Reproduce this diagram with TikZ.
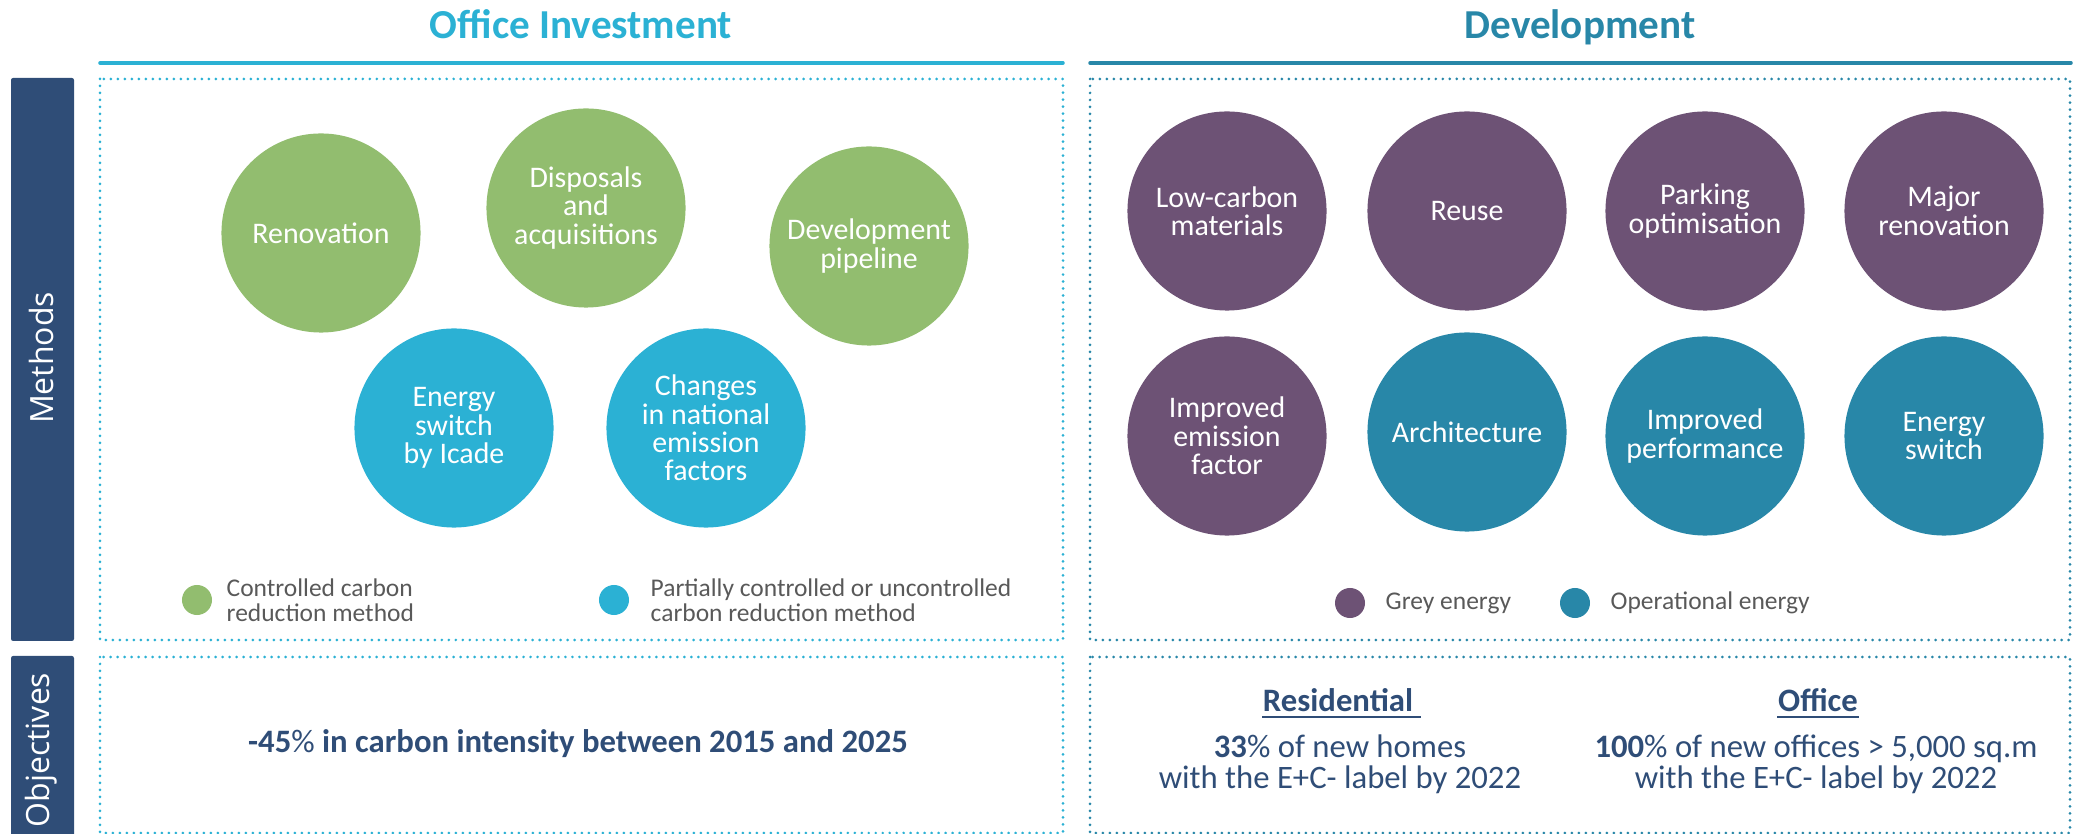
\documentclass[tikz,border=0pt]{standalone}
\usepackage{fontspec}
\setmainfont{Carlito}
\newfontfamily\sidefont{Open Sans}
\usetikzlibrary{positioning}

\definecolor{OfficeBlue}{HTML}{2BB1D4}
\definecolor{DevTeal}{HTML}{2887A8}
\definecolor{LeafGreen}{HTML}{92BD6F}
\definecolor{GreyPurple}{HTML}{6D5275}
\definecolor{Navy}{HTML}{2F4D77}
\definecolor{LegendGrey}{HTML}{595959}

\begin{document}
\begin{tikzpicture}[x=0.01cm,y=-0.01cm,
    method/.style={circle,minimum size=1.99cm,inner sep=0pt,text=white,align=center,
      font=\fontsize{8.5}{8.1}\selectfont},
    dotbox/.style={line width=0.85pt,dash pattern=on 0pt off 1.99pt,line cap=round},
    headline/.style={line width=1pt,line cap=round},
    heading/.style={anchor=base,inner sep=0pt,font=\fontsize{11.7}{12}\selectfont\bfseries},
    sidebar/.style={fill=Navy,rounded corners=0.6pt},
    sidelabel/.style={rotate=90,inner sep=0pt,text=white,font=\sidefont\fontsize{9.1}{10}\selectfont},
    keydot/.style={circle,minimum size=0.3cm,inner sep=0pt},
    keytext/.style={inner sep=0pt,text=LegendGrey,align=left,font=\fontsize{7.25}{7.1}\selectfont},
    goal/.style={inner sep=0pt,text=Navy,align=center,font=\fontsize{9.3}{8.8}\selectfont}]
  \useasboundingbox (0,0) rectangle (2078,834);

  % headings
  \node[heading,text=OfficeBlue] (office) at (581,39) {Office Investment};
  \node[heading,text=DevTeal] (dev) at (1580,39) {Development};
  \draw[headline,OfficeBlue] (100,63) -- (1063,63);
  \draw[headline,DevTeal] (1090,63) -- (2071,63);

  % side bars
  \fill[sidebar] (11,78) rectangle (74,641);
  \fill[sidebar] (11,656) rectangle (74,850);
  \node[sidelabel] (methods) at (41,358) {Methods};
  \node[sidelabel] (objectives) at (41,750) {Objectives};

  % dotted frames
  \draw[dotbox,OfficeBlue] (100,79) rectangle (1063,640);
  \draw[dotbox,OfficeBlue] (100,657) rectangle (1063,833);
  \draw[dotbox,DevTeal] (1090,79) rectangle (2070,640);
  \draw[dotbox,DevTeal] (1090,657) rectangle (2070,833);

  % office investment methods
  \node[method,fill=LeafGreen] (renov) at (321,233) {Renovation};
  \node[method,fill=LeafGreen] (dispo) at (586,208) {Disposals\\and\\acquisitions};
  \node[method,fill=LeafGreen] (pipe) at (869,246) {Development\\pipeline};
  \node[method,fill=OfficeBlue] (eswitch) at (454,428) {Energy\\switch\\by Icade};
  \node[method,fill=OfficeBlue] (factors) at (706,428) {Changes\\in national\\emission\\factors};

  \node[keydot,fill=LeafGreen] (greendot) at (197,600) {};
  \node[keytext,anchor=west] (greenkey) at (226,600) {Controlled carbon\\reduction method};
  \node[keydot,fill=OfficeBlue] (bluedot) at (614,600) {};
  \node[keytext,anchor=west] (bluekey) at (650,600) {Partially controlled or uncontrolled\\carbon reduction method};

  % development methods
  \node[method,fill=GreyPurple] (lowcarb) at (1227,211) {Low-carbon\\materials};
  \node[method,fill=GreyPurple] (reuse) at (1467,211) {Reuse};
  \node[method,fill=GreyPurple] (parking) at (1705,211) {Parking\\optimisation};
  \node[method,fill=GreyPurple] (majreno) at (1944,211) {Major\\renovation};
  \node[method,fill=GreyPurple] (emisfac) at (1227,436) {Improved\\emission\\factor};
  \node[method,fill=DevTeal] (archi) at (1467,432) {Architecture};
  \node[method,fill=DevTeal] (perf) at (1705,436) {Improved\\performance};
  \node[method,fill=DevTeal] (enswitch) at (1944,436) {Energy\\switch};

  \node[keydot,fill=GreyPurple] (greydot) at (1350,603) {};
  \node[keytext,anchor=base west] (greykey) at (1385,610) {Grey energy};
  \node[keydot,fill=DevTeal] (opdot) at (1575,603) {};
  \node[keytext,anchor=base west] (opkey) at (1610,610) {Operational energy};

  % objectives
  \node[goal,anchor=base] (officegoal) at (578,753)
    {\textbf{-45}\%\textbf{ in carbon intensity between 2015 and 2025}};
  \node[goal,anchor=base,font=\fontsize{9.3}{8.8}\selectfont\bfseries] (resi) at (1338,712) {Residential};
  \draw[Navy,line width=0.77pt] ([yshift=-1.4pt]resi.base west) -- ([xshift=2.2pt,yshift=-1.4pt]resi.base east);
  \node[goal] (resigoal) at (1340,764.5) {\textbf{33}\% of new homes\\with the E+C- label by 2022};
  \node[goal,anchor=base,font=\fontsize{9.3}{8.8}\selectfont\bfseries] (offi) at (1818,712) {Office};
  \draw[Navy,line width=0.77pt] ([yshift=-1.4pt]offi.base west) -- ([yshift=-1.4pt]offi.base east);
  \node[goal] (offigoal) at (1816,764.5) {\textbf{100}\% of new offices > 5,000 sq.m\\with the E+C- label by 2022};
\end{tikzpicture}
\end{document}
